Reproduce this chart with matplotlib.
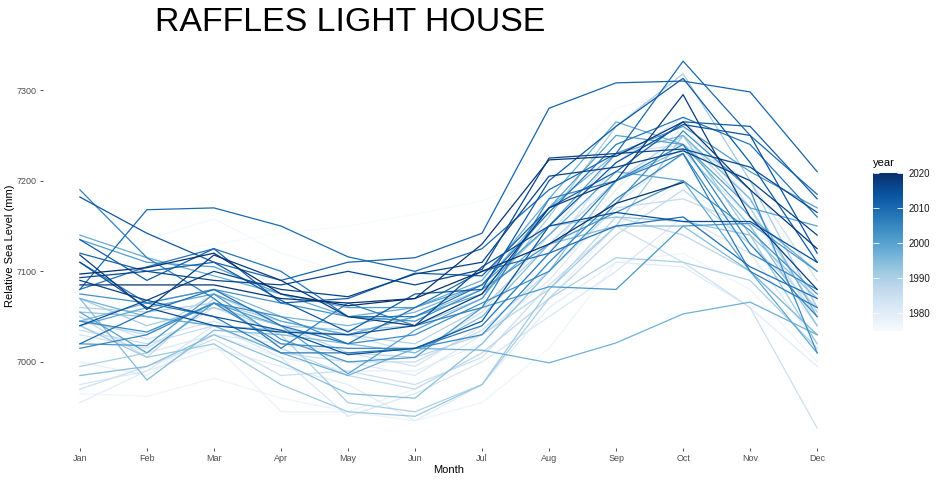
import matplotlib
matplotlib.use('Agg')
import matplotlib.pyplot as plt
import numpy as np

plt.rcParams['font.family'] = ['Liberation Sans', 'DejaVu Sans']

months = ['Jan', 'Feb', 'Mar', 'Apr', 'May', 'Jun', 'Jul', 'Aug', 'Sep', 'Oct', 'Nov', 'Dec']
nan = np.nan

# monthly mean sea level (mm)
levels = {
    1975: [7110, 7120, 7130, 7142, 7150, 7163, 7178, 7205, 7280, 7300, 7230, 7160],
    1976: [7050, 7135, 7158, 7120, 7098, 7090, 7110, 7150, 7200, 7240, 7180, 7100],
    1977: [6965, 6962, 6982, 6960, 6945, 6935, 6955, 7015, 7110, 7120, 7080, 7000],
    1978: [6985, 6995, 7020, 6945, 6945, 6970, 7010, 7070, 7150, 7200, 7130, 7040],
    1979: [7000, 6985, 7030, 7005, 6990, 6990, 7020, 7110, 7190, 7260, 7180, 7060],
    1980: [6955, 6990, 7015, 6995, 6975, 6935, 6975, 7060, 7110, 7105, 7060, 6995],
    1981: [7040, 7010, 7030, 7020, 7000, 6985, 7030, 7090, 7175, 7230, 7160, 7070],
    1982: [6975, 6990, 7040, 7005, 6940, 6965, 7000, 7050, 7100, 7160, 7120, 7020],
    1983: [7050, 7025, 7045, 7020, 7010, 6995, 7040, 7120, 7220, 7270, 7170, 7040],
    1984: [7030, 7015, 7060, 7030, 7030, 7010, 7055, 7140, 7230, 7240, 7200, 7090],
    1985: [6970, 6995, 7025, 6985, 6990, 6975, 7005, 7085, 7150, 7110, 7060, 6927],
    1986: [7035, 7020, 7040, 7010, 7000, 7000, 7035, 7100, 7170, 7180, 7150, 7050],
    1987: [7050, 7005, 7070, 7015, 6985, 6970, 7010, 7070, 7140, 7190, 7130, 7060],
    1988: [7045, 7030, 7075, 7040, 7010, 7005, 7030, 7080, 7160, 7140, 7100, 7030],
    1989: [7060, 7055, 7065, 7045, 7030, 7020, 7060, 7130, 7200, 7250, 7170, 7055],
    1990: [6995, 7010, 7065, 7030, 6955, 6945, 6975, 7070, 7115, 7110, 7090, 7015],
    1991: [7070, 7040, 7060, 7040, 7035, 7040, 7070, 7160, 7260, 7318, 7200, 7060],
    1992: [7040, 7005, 7020, 6975, 6945, 6940, 6975, 7080, 7150, 7250, 7140, 7020],
    1993: [7055, 7050, 7040, 7035, 7030, 7050, 7080, 7150, 7160, 7155, 7140, 7070],
    1994: [6985, 6995, 7030, 7000, 6965, 6960, 7020, 7100, 7200, 7235, 7150, 7040],
    1995: [7070, 6980, 7035, 7030, 7020, 7010, 7050, 7130, 7150, 7150, 7100, 7030],
    1996: [7045, 7065, 7080, 7050, 7040, 7055, 7085, 7170, 7230, 7250, 7180, 7050],
    1997: [7070, 7050, 7040, 7010, 6985, 7015, 7013, 6999, 7021, 7053, 7066, 7030],
    1998: [7140, 7115, 7095, 7075, 7050, 7060, 7090, 7180, 7265, 7240, 7160, 7100],
    1999: [7040, 7060, 7075, 7045, 7030, 7050, 7075, 7140, 7210, 7200, 7100, 7010],
    2000: [7055, 7010, 7065, 7040, 6987, 7035, 7070, 7170, 7250, 7240, 7170, 7150],
    2001: [7135, 7110, 7105, 7075, 7060, 7060, 7085, 7150, 7230, 7260, 7210, 7170],
    2002: [7020, 7018, 7075, 7025, 7000, 7005, 7060, 7083, 7080, 7150, 7153, 7100],
    2003: [7075, 7065, 7080, 7065, 7050, 7045, 7080, 7130, 7165, 7200, 7145, 7075],
    2004: [7045, 7033, 7065, 7050, 7020, 7030, 7065, 7100, 7175, 7255, 7190, 7010],
    2005: [7015, 7030, 7065, 7020, 7015, 7015, 7030, 7110, 7180, 7230, 7120, 7080],
    2006: [7190, 7115, 7070, 7015, 7065, 7040, 7060, 7180, 7200, 7240, 7130, 7050],
    2007: [7110, 7065, 7050, 7010, 7010, 7015, 7040, 7120, 7200, 7230, 7100, 7060],
    2008: [7080, 7105, 7125, 7100, 7050, 7050, 7085, 7165, 7240, 7270, 7240, 7160],
    2009: [7020, 7055, 7080, 7040, 7020, 7060, 7100, 7120, 7150, 7160, 7105, 7070],
    2010: [7080, 7168, 7170, 7150, 7116, 7100, 7125, 7190, 7230, 7332, 7250, 7185],
    2011: [7120, 7100, 7110, 7090, 7110, 7115, 7142, 7280, 7308, 7310, 7298, 7210],
    2012: [7135, 7090, 7125, 7065, 7070, 7098, 7095, 7170, 7210, 7265, 7260, 7180],
    2013: [7182, 7142, 7110, 7068, 7033, 7075, 7080, 7200, 7260, 7313, 7220, 7110],
    2014: [7040, 7068, 7050, 7035, 7008, 7015, 7045, 7150, 7220, 7262, 7250, 7120],
    2015: [7110, 7060, 7040, 7033, 7030, 7040, 7105, 7150, 7165, 7155, 7155, 7110],
    2016: [7093, 7100, 7090, 7085, 7100, 7085, 7102, 7225, 7230, 7235, 7215, 7165],
    2017: [7090, 7068, 7100, 7080, 7072, 7097, 7110, 7205, 7215, 7233, 7200, 7140],
    2018: [7118, 7058, 7118, 7090, 7050, 7040, 7075, 7170, 7200, 7295, 7160, 7080],
    2019: [7085, 7085, 7085, 7070, 7065, 7070, 7130, 7223, 7227, 7265, 7190, 7125],
    2020: [7097, 7104, 7120, 7075, 7062, 7070, 7100, 7130, 7175, 7198, nan, nan],
}

year_min, year_max = 1975, 2020
cmap = plt.get_cmap('Blues')
norm = plt.Normalize(year_min, year_max)
x = np.arange(1, 13)

fig = plt.figure(figsize=(9.4, 4.8), dpi=100)
ax = fig.add_axes([43 / 940, 32 / 480, 811 / 940, 405 / 480])

for yr, vals in levels.items():
    ax.plot(x, vals, color=cmap(norm(yr)), lw=0.9)

ax.set_xlim(0.45, 12.55)
ax.set_ylim(6905, 7352)
ax.set_xticks(x)
ax.set_xticklabels(months)
ax.set_yticks([7000, 7100, 7200, 7300])
for s in ax.spines.values():
    s.set_visible(False)
ax.tick_params(axis='both', labelsize=6.5, labelcolor='#4d4d4d', color='#333333',
               length=2.5, width=0.6, pad=2)
ax.set_xlabel('Month', fontsize=8, labelpad=1)
ax.set_ylabel('Relative Sea Level (mm)', fontsize=8)
ax.yaxis.set_label_coords(-0.034, 0.5)

fig.text(155 / 940, 1 - 31 / 480, 'RAFFLES LIGHT HOUSE', fontsize=24.4, ha='left', va='baseline')

# colour bar
cax = fig.add_axes([873 / 940, (480 - 331) / 480, 30 / 940, 158 / 480])
sm = plt.cm.ScalarMappable(norm=norm, cmap=cmap)
cb = fig.colorbar(sm, cax=cax, ticks=[1980, 1990, 2000, 2010, 2020])
cb.outline.set_visible(False)
cax.tick_params(direction='in', color='white', length=4, width=0.6, left=True, right=True,
                labelsize=7, labelcolor='#1a1a1a', pad=4)
cax.text(0, 1.03, 'year', transform=cax.transAxes, fontsize=8, ha='left', va='bottom')

fig.savefig('out.png', dpi=100)
